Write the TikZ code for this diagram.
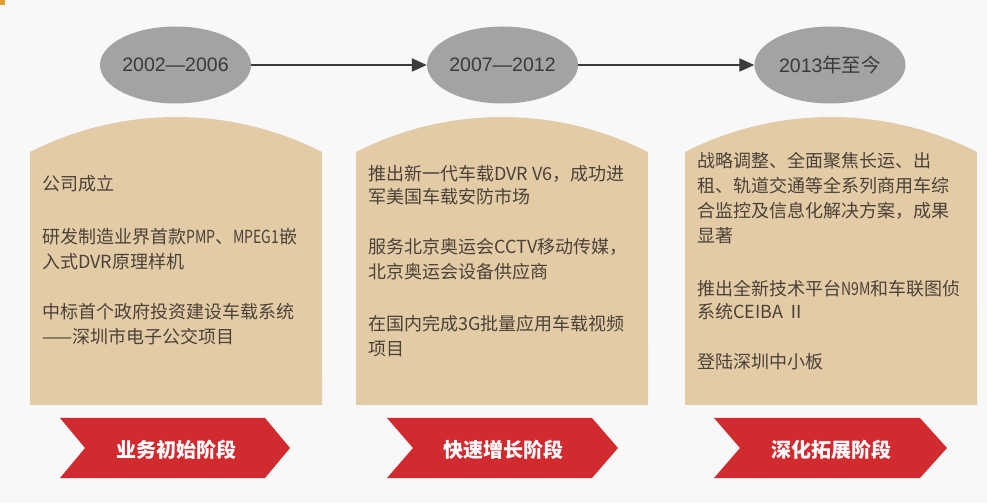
\documentclass[tikz,border=0pt]{standalone}
\usepackage{fontspec}
\usepackage{graphicx}
\usetikzlibrary{shapes.geometric,arrows.meta}
\newfontfamily\cjk{Noto Sans CJK SC}
\newfontfamily\yearfont{Liberation Sans}
\newcommand{\narrowlat}[1]{\scalebox{0.78}[1]{#1}}
\definecolor{bgc}{HTML}{F8F8F8}
\definecolor{ellc}{HTML}{A3A3A3}
\definecolor{linec}{HTML}{3C3C3C}
\definecolor{cardc}{HTML}{E3CBA6}
\definecolor{txtc}{HTML}{4A4239}
\definecolor{redc}{HTML}{D12B2F}
\definecolor{yeartxt}{HTML}{3A3A3A}
\definecolor{markc}{HTML}{E0A030}
\begin{document}
\begin{tikzpicture}[x=1pt,y=1pt,
  period/.style={ellipse,fill=ellc,minimum width=151pt,minimum height=77pt,inner sep=0pt,
    text=yeartxt,font=\yearfont\fontsize{19.5}{19.5}\selectfont},
  link/.style={draw=linec,line width=2pt,-{Triangle[length=15pt,width=13pt]}},
  line/.style={anchor=base west,inner sep=0pt,text=txtc,font=\cjk\fontsize{18}{18}\selectfont},
  stage/.style={inner sep=0pt,text=white,font=\cjk\bfseries\fontsize{20}{20}\selectfont}]
\fill[bgc] (0,0) rectangle (987,503);
\useasboundingbox (0,0) rectangle (987,503);
\fill[markc] (0,498) rectangle (5,503);
% periods
\node[period] (e1) at (175.5,438) {2002—2006};
\node[period] (e2) at (502.5,438) {2007—2012};
\node[period] (e3) at (830,438) {2013{\cjk 年至今}};
\draw[link] (e1) -- (e2);
\draw[link] (e2) -- (e3);
% cards
\fill[cardc] (30,98) -- (30,351) arc[start angle=116.96,end angle=63.04,radius=322] -- (322,98) -- cycle;
\fill[cardc] (356,98) -- (356,351) arc[start angle=116.96,end angle=63.04,radius=322] -- (648,98) -- cycle;
\fill[cardc] (685,98) -- (685,351) arc[start angle=116.96,end angle=63.04,radius=322] -- (977,98) -- cycle;
% card 1 text
\node[line] (a1) at (42,312) {公司成立};
\node[line] (a2) at (42,259) {研发制造业界首款\narrowlat{PMP}、\narrowlat{MPEG1}嵌};
\node[line] (a3) at (42,234) {入式DVR原理样机};
\node[line] (a4) at (42,184) {中标首个政府投资建设车载系统};
\node[line] (a5) at (42,159) {——深圳市电子公交项目};
% card 2 text
\node[line] (b1) at (368,322) {推出新一代车载DVR V6，成功进};
\node[line] (b2) at (368,299) {军美国车载安防市场};
\node[line] (b3) at (368,249) {服务北京奥运会CCTV移动传媒，};
\node[line] (b4) at (368,224) {北京奥运会设备供应商};
\node[line] (b5) at (368,172) {在国内完成3G批量应用车载视频};
\node[line] (b6) at (368,147) {项目};
% card 3 text
\node[line] (c1) at (697,335) {战略调整、全面聚焦长运、出};
\node[line] (c2) at (697,310) {租、轨道交通等全系列商用车综};
\node[line] (c3) at (697,285) {合监控及信息化解决方案，成果};
\node[line] (c4) at (697,260) {显著};
\node[line] (c5) at (697,207) {推出全新技术平台\narrowlat{N9M}和车联图侦};
\node[line] (c6) at (697,184) {系统CEIBA Ⅱ};
\node[line] (c7) at (697,134) {登陆深圳中小板};
% banners
\fill[redc] (60,85) -- (265,85) -- (290,55) -- (265,25) -- (60,25) -- (85,55) -- cycle;
\fill[redc] (387,85) -- (592,85) -- (618,55) -- (592,25) -- (387,25) -- (413,55) -- cycle;
\fill[redc] (714,85) -- (920,85) -- (947,55) -- (920,25) -- (714,25) -- (740,55) -- cycle;
\node[stage] (s1) at (176,53) {业务初始阶段};
\node[stage] (s2) at (503,53) {快速增长阶段};
\node[stage] (s3) at (831,53) {深化拓展阶段};
\end{tikzpicture}
\end{document}
